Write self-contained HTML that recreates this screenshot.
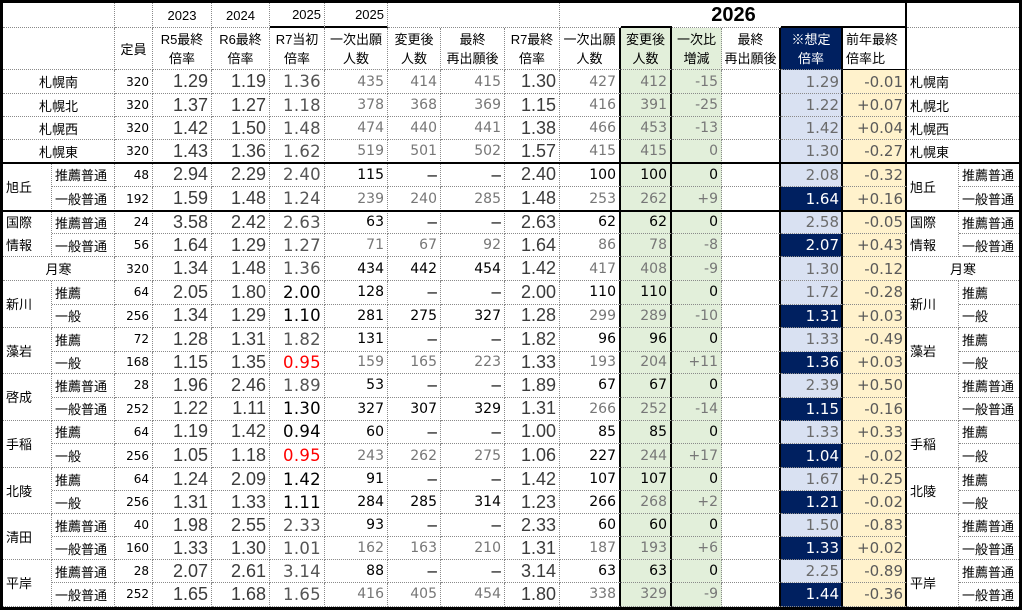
<!DOCTYPE html>
<html><head><meta charset="utf-8">
<style>
body{margin:0;background:#fff;width:1024px;height:610px;overflow:hidden;position:relative;}
.g{position:absolute;left:0;top:0;border:3px solid #000;display:grid;width:1016px;
grid-template-columns:49px 63px 38px 59px 58px 55px 63px 53px 64px 55px 61px 51px 50px 59px 62px 64px 52px 60px;
grid-template-rows:25px 42px 24px 23px 23px 23px 24px 24px 23px 23px 24px 23.5px 23.2px 24px 22.3px 23.7px 23px 23.3px 24.3px 22.7px 23.3px 23px 22.7px 23.3px 23.4px;}
.c{box-sizing:border-box;border-right:1px dotted #8a8a8a;border-bottom:1px dotted #8a8a8a;display:flex;align-items:center;white-space:nowrap;overflow:hidden;}
.r{justify-content:flex-end;padding-right:3px}
.l{justify-content:flex-start;padding-left:3px}
.m{justify-content:center}
.s2{grid-column:span 2}.s3{grid-column:span 3}.v2{grid-row:span 2}
.T{border-right:2px solid #000}
.Bb{border-bottom:2px solid #000}
.nr{border-right:none}
.jp{font:13px "Liberation Sans","Noto Sans CJK JP",sans-serif;color:#000}
.jp span{line-height:19px;text-align:center}
.l span{text-align:left}
.h1{font:13px "Liberation Sans",sans-serif;color:#000}
.b{font:18px "Liberation Sans",sans-serif;color:#3b3b3b}
.q{font:16.5px "DejaVu Sans",sans-serif;letter-spacing:0.3px;padding-right:3px}
.n{font:14px "DejaVu Sans",sans-serif}
.d{font:17px "Liberation Sans",sans-serif;color:#000}
.t{font:12px "DejaVu Sans",sans-serif;color:#000}
.p{font:15px "DejaVu Sans",sans-serif;padding-right:2px}
.k{color:#000}.y{color:#777}.gy{color:#555}.rd{color:#f00}
.gr{background:#e2efda}
.lv{background:#d9e1f2;color:#6b6b6b}
.nv{background:#002060;color:#fff}
.nvh{background:#002060;color:#fff}
.yl{background:#fff2cc;color:#595959}
.hl{position:absolute;left:0;width:1022px;height:2px;background:#000}
.yr{position:absolute;left:560px;width:347px;top:3px;height:25px;display:flex;align-items:center;justify-content:center;font:bold 20px "Liberation Sans",sans-serif;color:#000}
</style></head><body>
<div class="g">
<!-- header row 1 -->
<div class="c s2"></div><div class="c"></div>
<div class="c m h1">2023</div><div class="c m h1">2024</div>
<div class="c r h1 Bb">2025</div><div class="c r h1 Bb">2025</div>
<div class="c s3"></div>
<div class="c nr"></div><div class="c nr Bb"></div><div class="c s2 nr"></div><div class="c s2 T Bb"></div><div class="c s2 nr"></div>
<!-- header row 2 -->
<div class="c s2"></div>
<div class="c m jp">定員</div>
<div class="c m jp"><span>R5最終<br>倍率</span></div>
<div class="c m jp"><span>R6最終<br>倍率</span></div>
<div class="c m jp"><span>R7当初<br>倍率</span></div>
<div class="c m jp"><span>一次出願<br>人数</span></div>
<div class="c m jp"><span>変更後<br>人数</span></div>
<div class="c m jp"><span>最終<br>再出願後</span></div>
<div class="c m jp"><span>R7最終<br>倍率</span></div>
<div class="c m jp T"><span>一次出願<br>人数</span></div>
<div class="c m jp T gr"><span>変更後<br>人数</span></div>
<div class="c m jp gr"><span>一次比<br>増減</span></div>
<div class="c m jp T"><span>最終<br>再出願後</span></div>
<div class="c m jp T nvh" style="color:#fff"><span>※想定<br>倍率</span></div>
<div class="c l jp T" style="border-bottom:1px solid #000"><span>前年最終<br>倍率比</span></div>
<div class="c s2 nr"></div>

<!-- 札幌南 -->
<div class="c m jp s2">札幌南</div><div class="c r t">320</div><div class="c r b">1.29</div><div class="c r b">1.19</div><div class="c r q gy">1.36</div><div class="c r n y">435</div><div class="c r n y">414</div><div class="c r n y">415</div><div class="c r b">1.30</div><div class="c r n y T">427</div><div class="c r n y gr T">412</div><div class="c r n y gr">-15</div><div class="c T"></div><div class="c r p lv T">1.29</div><div class="c r p yl T">-0.01</div><div class="c l jp s2 nr">札幌南</div>
<!-- 札幌北 -->
<div class="c m jp s2">札幌北</div><div class="c r t">320</div><div class="c r b">1.37</div><div class="c r b">1.27</div><div class="c r q gy">1.18</div><div class="c r n y">378</div><div class="c r n y">368</div><div class="c r n y">369</div><div class="c r b">1.15</div><div class="c r n y T">416</div><div class="c r n y gr T">391</div><div class="c r n y gr">-25</div><div class="c T"></div><div class="c r p lv T">1.22</div><div class="c r p yl T">+0.07</div><div class="c l jp s2 nr">札幌北</div>
<!-- 札幌西 -->
<div class="c m jp s2">札幌西</div><div class="c r t">320</div><div class="c r b">1.42</div><div class="c r b">1.50</div><div class="c r q gy">1.48</div><div class="c r n y">474</div><div class="c r n y">440</div><div class="c r n y">441</div><div class="c r b">1.38</div><div class="c r n y T">466</div><div class="c r n y gr T">453</div><div class="c r n y gr">-13</div><div class="c T"></div><div class="c r p lv T">1.42</div><div class="c r p yl T">+0.04</div><div class="c l jp s2 nr">札幌西</div>
<!-- 札幌東 -->
<div class="c m jp s2">札幌東</div><div class="c r t">320</div><div class="c r b">1.43</div><div class="c r b">1.36</div><div class="c r q gy">1.62</div><div class="c r n y">519</div><div class="c r n y">501</div><div class="c r n y">502</div><div class="c r b">1.57</div><div class="c r n y T">415</div><div class="c r n y gr T">415</div><div class="c r n y gr">0</div><div class="c T"></div><div class="c r p lv T">1.30</div><div class="c r p yl T">-0.27</div><div class="c l jp s2 nr">札幌東</div>
<!-- 旭丘 推薦 -->
<div class="c l jp v2">旭丘</div><div class="c l jp">推薦普通</div><div class="c r t">48</div><div class="c r b">2.94</div><div class="c r b">2.29</div><div class="c r q gy">2.40</div><div class="c r n k">115</div><div class="c r d">–</div><div class="c r d">–</div><div class="c r b">2.40</div><div class="c r n k T">100</div><div class="c r n k gr T">100</div><div class="c r n k gr">0</div><div class="c T"></div><div class="c r p lv T">2.08</div><div class="c r p yl T">-0.32</div><div class="c l jp v2">旭丘</div><div class="c l jp nr">推薦普通</div>
<!-- 旭丘 一般 -->
<div class="c l jp">一般普通</div><div class="c r t">192</div><div class="c r b">1.59</div><div class="c r b">1.48</div><div class="c r q gy">1.24</div><div class="c r n y">239</div><div class="c r n y">240</div><div class="c r n y">285</div><div class="c r b">1.48</div><div class="c r n y T">253</div><div class="c r n y gr T">262</div><div class="c r n y gr">+9</div><div class="c T"></div><div class="c r p nv T">1.64</div><div class="c r p yl T">+0.16</div><div class="c l jp nr">一般普通</div>
<!-- 国際情報 推薦 -->
<div class="c l jp v2"><span style="line-height:23px;text-align:left">国際<br>情報</span></div><div class="c l jp">推薦普通</div><div class="c r t">24</div><div class="c r b">3.58</div><div class="c r b">2.42</div><div class="c r q gy">2.63</div><div class="c r n k">63</div><div class="c r d">–</div><div class="c r d">–</div><div class="c r b">2.63</div><div class="c r n k T">62</div><div class="c r n k gr T">62</div><div class="c r n k gr">0</div><div class="c T"></div><div class="c r p lv T">2.58</div><div class="c r p yl T">-0.05</div><div class="c l jp v2"><span style="line-height:23px;text-align:left">国際<br>情報</span></div><div class="c l jp nr">推薦普通</div>
<!-- 国際情報 一般 -->
<div class="c l jp">一般普通</div><div class="c r t">56</div><div class="c r b">1.64</div><div class="c r b">1.29</div><div class="c r q gy">1.27</div><div class="c r n y">71</div><div class="c r n y">67</div><div class="c r n y">92</div><div class="c r b">1.64</div><div class="c r n y T">86</div><div class="c r n y gr T">78</div><div class="c r n y gr">-8</div><div class="c T"></div><div class="c r p nv T">2.07</div><div class="c r p yl T">+0.43</div><div class="c l jp nr">一般普通</div>
<!-- 月寒 -->
<div class="c m jp s2">月寒</div><div class="c r t">320</div><div class="c r b">1.34</div><div class="c r b">1.48</div><div class="c r q gy">1.36</div><div class="c r n k">434</div><div class="c r n k">442</div><div class="c r n k">454</div><div class="c r b">1.42</div><div class="c r n y T">417</div><div class="c r n y gr T">408</div><div class="c r n y gr">-9</div><div class="c T"></div><div class="c r p lv T">1.30</div><div class="c r p yl T">-0.12</div><div class="c m jp s2 nr">月寒</div>
<!-- 新川 推薦 -->
<div class="c l jp v2">新川</div><div class="c l jp">推薦</div><div class="c r t">64</div><div class="c r b">2.05</div><div class="c r b">1.80</div><div class="c r q k">2.00</div><div class="c r n k">128</div><div class="c r d">–</div><div class="c r d">–</div><div class="c r b">2.00</div><div class="c r n k T">110</div><div class="c r n k gr T">110</div><div class="c r n k gr">0</div><div class="c T"></div><div class="c r p lv T">1.72</div><div class="c r p yl T">-0.28</div><div class="c l jp v2">新川</div><div class="c l jp nr">推薦</div>
<!-- 新川 一般 -->
<div class="c l jp">一般</div><div class="c r t">256</div><div class="c r b">1.34</div><div class="c r b">1.29</div><div class="c r q k">1.10</div><div class="c r n k">281</div><div class="c r n k">275</div><div class="c r n k">327</div><div class="c r b">1.28</div><div class="c r n y T">299</div><div class="c r n y gr T">289</div><div class="c r n y gr">-10</div><div class="c T"></div><div class="c r p nv T">1.31</div><div class="c r p yl T">+0.03</div><div class="c l jp nr">一般</div>
<!-- 藻岩 推薦 -->
<div class="c l jp v2">藻岩</div><div class="c l jp">推薦</div><div class="c r t">72</div><div class="c r b">1.28</div><div class="c r b">1.31</div><div class="c r q gy">1.82</div><div class="c r n k">131</div><div class="c r d">–</div><div class="c r d">–</div><div class="c r b">1.82</div><div class="c r n k T">96</div><div class="c r n k gr T">96</div><div class="c r n k gr">0</div><div class="c T"></div><div class="c r p lv T">1.33</div><div class="c r p yl T">-0.49</div><div class="c l jp v2">藻岩</div><div class="c l jp nr">推薦</div>
<!-- 藻岩 一般 -->
<div class="c l jp">一般</div><div class="c r t">168</div><div class="c r b">1.15</div><div class="c r b">1.35</div><div class="c r q rd">0.95</div><div class="c r n y">159</div><div class="c r n y">165</div><div class="c r n y">223</div><div class="c r b">1.33</div><div class="c r n y T">193</div><div class="c r n y gr T">204</div><div class="c r n y gr">+11</div><div class="c T"></div><div class="c r p nv T">1.36</div><div class="c r p yl T">+0.03</div><div class="c l jp nr">一般</div>
<!-- 啓成 推薦 -->
<div class="c l jp v2">啓成</div><div class="c l jp">推薦普通</div><div class="c r t">28</div><div class="c r b">1.96</div><div class="c r b">2.46</div><div class="c r q gy">1.89</div><div class="c r n k">53</div><div class="c r d">–</div><div class="c r d">–</div><div class="c r b">1.89</div><div class="c r n k T">67</div><div class="c r n k gr T">67</div><div class="c r n k gr">0</div><div class="c T"></div><div class="c r p lv T">2.39</div><div class="c r p yl T">+0.50</div><div class="c l jp v2"></div><div class="c l jp nr">推薦普通</div>
<!-- 啓成 一般 -->
<div class="c l jp">一般普通</div><div class="c r t">252</div><div class="c r b">1.22</div><div class="c r b">1.11</div><div class="c r q k">1.30</div><div class="c r n k">327</div><div class="c r n k">307</div><div class="c r n k">329</div><div class="c r b">1.31</div><div class="c r n y T">266</div><div class="c r n y gr T">252</div><div class="c r n y gr">-14</div><div class="c T"></div><div class="c r p nv T">1.15</div><div class="c r p yl T">-0.16</div><div class="c l jp nr">一般普通</div>
<!-- 手稲 推薦 -->
<div class="c l jp v2">手稲</div><div class="c l jp">推薦</div><div class="c r t">64</div><div class="c r b">1.19</div><div class="c r b">1.42</div><div class="c r q k">0.94</div><div class="c r n k">60</div><div class="c r d">–</div><div class="c r d">–</div><div class="c r b">1.00</div><div class="c r n k T">85</div><div class="c r n k gr T">85</div><div class="c r n k gr">0</div><div class="c T"></div><div class="c r p lv T">1.33</div><div class="c r p yl T">+0.33</div><div class="c l jp v2">手稲</div><div class="c l jp nr">推薦</div>
<!-- 手稲 一般 -->
<div class="c l jp">一般</div><div class="c r t">256</div><div class="c r b">1.05</div><div class="c r b">1.18</div><div class="c r q rd">0.95</div><div class="c r n y">243</div><div class="c r n y">262</div><div class="c r n y">275</div><div class="c r b">1.06</div><div class="c r n k T">227</div><div class="c r n y gr T">244</div><div class="c r n y gr">+17</div><div class="c T"></div><div class="c r p nv T">1.04</div><div class="c r p yl T">-0.02</div><div class="c l jp nr">一般</div>
<!-- 北陵 推薦 -->
<div class="c l jp v2">北陵</div><div class="c l jp">推薦</div><div class="c r t">64</div><div class="c r b">1.24</div><div class="c r b">2.09</div><div class="c r q k">1.42</div><div class="c r n k">91</div><div class="c r d">–</div><div class="c r d">–</div><div class="c r b">1.42</div><div class="c r n k T">107</div><div class="c r n k gr T">107</div><div class="c r n k gr">0</div><div class="c T"></div><div class="c r p lv T">1.67</div><div class="c r p yl T">+0.25</div><div class="c l jp v2">北陵</div><div class="c l jp nr">推薦</div>
<!-- 北陵 一般 -->
<div class="c l jp">一般</div><div class="c r t">256</div><div class="c r b">1.31</div><div class="c r b">1.33</div><div class="c r q k">1.11</div><div class="c r n k">284</div><div class="c r n k">285</div><div class="c r n k">314</div><div class="c r b">1.23</div><div class="c r n k T">266</div><div class="c r n y gr T">268</div><div class="c r n y gr">+2</div><div class="c T"></div><div class="c r p nv T">1.21</div><div class="c r p yl T">-0.02</div><div class="c l jp nr">一般</div>
<!-- 清田 推薦 -->
<div class="c l jp v2">清田</div><div class="c l jp">推薦普通</div><div class="c r t">40</div><div class="c r b">1.98</div><div class="c r b">2.55</div><div class="c r q gy">2.33</div><div class="c r n k">93</div><div class="c r d">–</div><div class="c r d">–</div><div class="c r b">2.33</div><div class="c r n k T">60</div><div class="c r n k gr T">60</div><div class="c r n k gr">0</div><div class="c T"></div><div class="c r p lv T">1.50</div><div class="c r p yl T">-0.83</div><div class="c l jp v2"></div><div class="c l jp nr">推薦普通</div>
<!-- 清田 一般 -->
<div class="c l jp">一般普通</div><div class="c r t">160</div><div class="c r b">1.33</div><div class="c r b">1.30</div><div class="c r q gy">1.01</div><div class="c r n y">162</div><div class="c r n y">163</div><div class="c r n y">210</div><div class="c r b">1.31</div><div class="c r n y T">187</div><div class="c r n y gr T">193</div><div class="c r n y gr">+6</div><div class="c T"></div><div class="c r p nv T">1.33</div><div class="c r p yl T">+0.02</div><div class="c l jp nr">一般普通</div>
<!-- 平岸 推薦 -->
<div class="c l jp v2">平岸</div><div class="c l jp">推薦普通</div><div class="c r t">28</div><div class="c r b">2.07</div><div class="c r b">2.61</div><div class="c r q gy">3.14</div><div class="c r n k">88</div><div class="c r d">–</div><div class="c r d">–</div><div class="c r b">3.14</div><div class="c r n k T">63</div><div class="c r n k gr T">63</div><div class="c r n k gr">0</div><div class="c T"></div><div class="c r p lv T">2.25</div><div class="c r p yl T">-0.89</div><div class="c l jp v2">平岸</div><div class="c l jp nr">推薦普通</div>
<!-- 平岸 一般 -->
<div class="c l jp">一般普通</div><div class="c r t">252</div><div class="c r b">1.65</div><div class="c r b">1.68</div><div class="c r q gy">1.65</div><div class="c r n y">416</div><div class="c r n y">405</div><div class="c r n y">454</div><div class="c r b">1.80</div><div class="c r n y T">338</div><div class="c r n y gr T">329</div><div class="c r n y gr">-9</div><div class="c T"></div><div class="c r p nv T">1.44</div><div class="c r p yl T">-0.36</div><div class="c l jp nr">一般普通</div>
</div>
<div class="yr">2026</div>
<div class="hl" style="top:162px"></div>
<div class="hl" style="top:210px"></div>
</body></html>
